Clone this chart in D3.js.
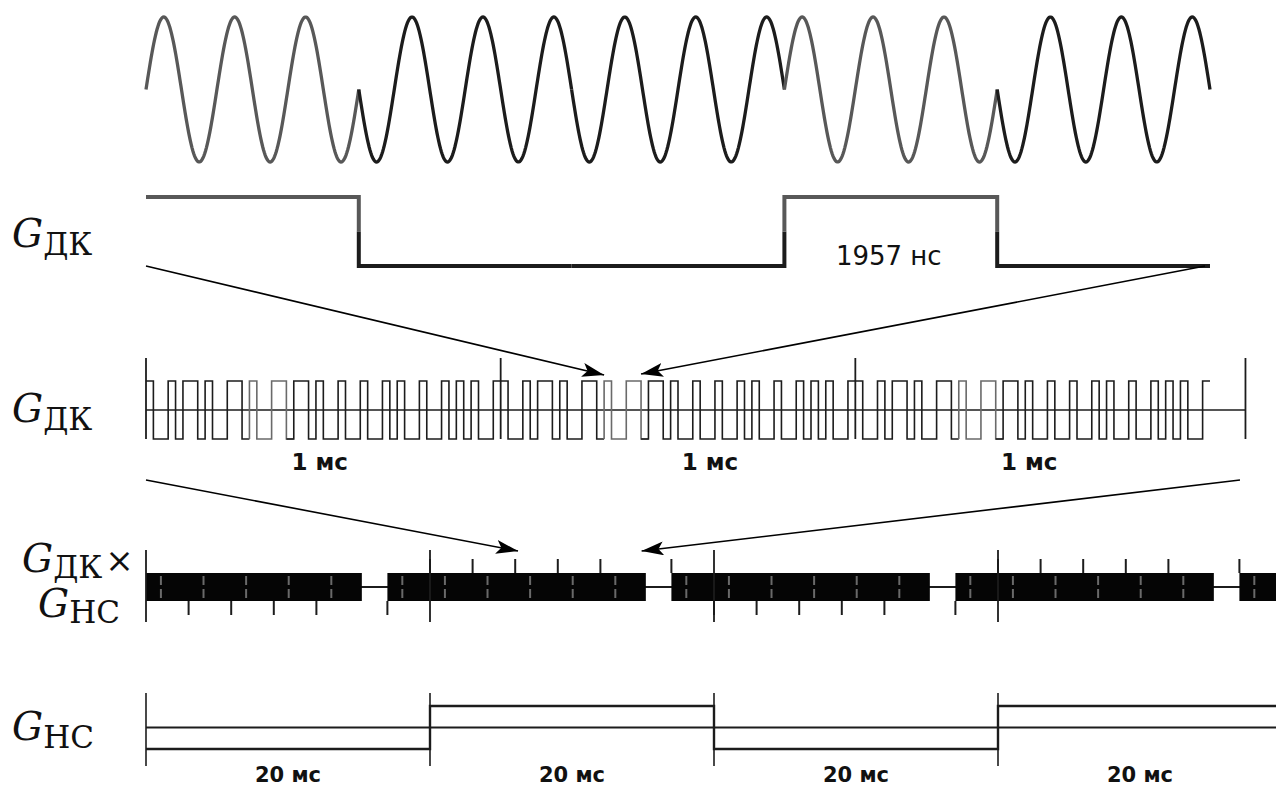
<!DOCTYPE html>
<html>
<head>
<meta charset="utf-8">
<script src="https://cdn.jsdelivr.net/npm/d3@7"></script>
<style>
  body { margin: 0; background: #fff; }
  text { fill: #111; }
</style>
</head>
<body>
<svg id="chart" width="1276" height="787"></svg>
<script>
// ---- data ----
// zoomed piece of the code: chip levels (1 = +, 0 = -)
const carrierChips = [1, 0, 0, 1, 0];
const cyclesPerChip = 3;
const chipLabel = "1957 нс";
const chipLabelAt = 3.5;

// one period (1 ms) of the code, repeated each ms
const codeChips = [1,0,0,1,0,1,1,0,1,0,0,1,1,0,1,0,0,1,1,0,1,1,0,1,
                   0,0,1,0,0,1,0,0,1,0,1,0,0,1,0,0,1,0,1,0,1,0,0,1];
const codePeriods = 3;
const highlightChips = [14, 18];   // chips shown in the upper rows
const msTicks = [0, 1, 2, 3.1];
const msLabelPos = [0.49, 1.59, 2.49];
const msLabel = "1 мс";

// code x nav: blocks of modulated code (ms), tick step 3 ms
const blockStarts = [0, 17, 37, 57, 77];
const blockEnds = [15.2, 35.2, 55.2, 75.2, 84];
const blockTickSide = [1, -1, 1, -1, -1];   // 1 = below, -1 = above
const tickStep = 3;
const navZoom = [26.2, 34.9];

// navigation bits, 20 ms each
const navBits = [0, 1, 0, 1];
const bitMs = 20;
const navLabel = "20 мс";

// ---- drawing ----
const svg = d3.select("#chart");
const dark = "#1c1c1c", grey = "#585858";

svg.append("defs").append("marker")
  .attr("id", "head")
  .attr("markerUnits", "userSpaceOnUse")
  .attr("viewBox", "0 0 22 14")
  .attr("refX", 22).attr("refY", 7)
  .attr("markerWidth", 22).attr("markerHeight", 14)
  .attr("orient", "auto")
  .append("path").attr("d", "M0,0 L22,7 L0,14 L5,7 Z").attr("fill", "#000");

function arrow(x1, y1, x2, y2) {
  svg.append("line")
    .attr("x1", x1).attr("y1", y1).attr("x2", x2).attr("y2", y2)
    .attr("stroke", "#000").attr("stroke-width", 1.6)
    .attr("marker-end", "url(#head)");
}

function mathLabel(x, y, sub, extra, subDy) {
  const d = subDy || 8;
  const t = svg.append("text").attr("x", x).attr("y", y)
    .style("font-family", "'DejaVu Serif', 'Liberation Serif', serif");
  t.append("tspan").text("G").style("font-style", "italic").style("font-size", "39px");
  t.append("tspan").text(sub).attr("dy", d).style("font-size", "31px");
  if (extra) t.append("tspan").text(extra).attr("dy", -d).attr("dx", 3).style("font-size", "34px");
}

// 1) carrier with phase flips
const xCar = d3.scaleLinear().domain([0, carrierChips.length]).range([146, 1210]);
const yCar = d3.scaleLinear().domain([-1, 1]).range([162, 17]);
const sine = d3.line().x(d => xCar(d[0])).y(d => yCar(d[1]));

carrierChips.forEach((c, i) => {
  const s = c ? 1 : -1;
  const pts = d3.range(i, i + 1.0001, 0.004).map(t => [t, s * Math.sin(2 * Math.PI * cyclesPerChip * (t - i))]);
  svg.append("path").attr("d", sine(pts))
    .attr("fill", "none").attr("stroke", c ? grey : dark).attr("stroke-width", 3.3);
});

// 2) the same chips as levels
const yLvl2 = d3.scaleLinear().domain([0, 1]).range([266, 197]);
const mid2 = yLvl2(0.5);
carrierChips.forEach((c, i) => {
  const p = d3.path();
  const prev = carrierChips[i - 1], next = carrierChips[i + 1];
  if (prev !== undefined && prev !== c) { p.moveTo(xCar(i), mid2); p.lineTo(xCar(i), yLvl2(c)); }
  else p.moveTo(xCar(i), yLvl2(c));
  p.lineTo(xCar(i + 1), yLvl2(c));
  if (next !== undefined && next !== c) p.lineTo(xCar(i + 1), mid2);
  svg.append("path").attr("d", p.toString())
    .attr("fill", "none").attr("stroke", c ? grey : dark).attr("stroke-width", 4);
});
svg.append("text").attr("x", xCar(chipLabelAt) - 2).attr("y", 265)
  .attr("text-anchor", "middle")
  .style("font-family", "'DejaVu Sans', Verdana, sans-serif").style("font-size", "26px")
  .text(chipLabel);
mathLabel(12, 247, "ДК");

// 3) code over 3 ms
const xMs = d3.scaleLinear().domain([0, codePeriods]).range([146, 1210]);
const yLvl3 = d3.scaleLinear().domain([0, 1]).range([439, 381]);
const mid3 = yLvl3(0.5);
const n = codeChips.length;
const allChips = d3.range(codePeriods).flatMap(() => codeChips);

svg.append("line").attr("x1", xMs(0)).attr("x2", xMs(msTicks[msTicks.length - 1]))
  .attr("y1", mid3).attr("y2", mid3).attr("stroke", dark).attr("stroke-width", 1.6);

function codePath(from, to) {
  const p = d3.path();
  p.moveTo(xMs(from / n), yLvl3(allChips[from]));
  for (let i = from; i <= to; i++) {
    const c = allChips[i], xe = xMs((i + 1) / n);
    p.lineTo(xe, yLvl3(c));
    const nx = allChips[i + 1];
    if (i < to && nx !== c) p.lineTo(xe, yLvl3(nx));
  }
  return p.toString();
}
// chips draw dark, the zoomed chips of each period a bit lighter
let start = 0;
d3.range(codePeriods).forEach(k => {
  const h0 = k * n + highlightChips[0], h1 = k * n + highlightChips[1];
  svg.append("path").attr("d", codePath(start, h0 - 1))
    .attr("fill", "none").attr("stroke", dark).attr("stroke-width", 1.6);
  svg.append("path").attr("d", codePath(h0 - 1, h1 + 1).replace(/^M[^L]*/, "M" + xMs(h0 / n) + "," + yLvl3(allChips[h0 - 1])))
    .attr("fill", "none").attr("stroke", "#6a6a6a").attr("stroke-width", 1.6);
  start = h1 + 1;
});
svg.append("path").attr("d", codePath(start, allChips.length - 1))
  .attr("fill", "none").attr("stroke", dark).attr("stroke-width", 1.6);

svg.selectAll(".mstick").data(msTicks).enter().append("line")
  .attr("x1", d => xMs(d)).attr("x2", d => xMs(d))
  .attr("y1", 358).attr("y2", 439)
  .attr("stroke", dark).attr("stroke-width", 1.8);

svg.selectAll(".mslabel").data(msLabelPos).enter().append("text")
  .attr("x", d => xMs(d)).attr("y", 470).attr("text-anchor", "middle")
  .style("font-family", "'DejaVu Sans', Verdana, sans-serif").style("font-weight", "bold")
  .style("font-size", "23px").text(msLabel);
mathLabel(12, 422, "ДК");

arrow(xCar(0), yLvl2(0), xMs(1 + highlightChips[0] / n), 375);
arrow(1205, yLvl2(0), xMs(1 + (highlightChips[1] + 1) / n), 374);

// 4) code x nav message
const xNav = d3.scaleLinear().domain([0, navBits.length * bitMs]).range([146, 1282]);
const y4 = 587, h4 = 28;

svg.append("line").attr("x1", xNav(0)).attr("x2", 1276)
  .attr("y1", y4).attr("y2", y4).attr("stroke", dark).attr("stroke-width", 2);

blockStarts.forEach((s, b) => {
  const e = blockEnds[b];
  svg.append("rect").attr("x", xNav(s)).attr("y", y4 - h4 / 2)
    .attr("width", xNav(e) - xNav(s)).attr("height", h4).attr("fill", "#050505");
  // faint seams
  for (let t = s + 1.05; t < e; t += tickStep) {
    [[y4 - h4 / 2 + 3, y4 - 2], [y4 + 2, y4 + h4 / 2 - 3]].forEach(([a, z]) => {
      svg.append("line").attr("x1", xNav(t)).attr("x2", xNav(t))
        .attr("y1", a).attr("y2", z)
        .attr("stroke", "#6a6a6a").attr("stroke-width", 2);
    });
  }
  const side = blockTickSide[b];
  for (let t = s + tickStep; t < e - 0.5; t += tickStep) {
    const y0 = side > 0 ? y4 + h4 / 2 : y4 - h4 / 2;
    svg.append("line").attr("x1", xNav(t)).attr("x2", xNav(t))
      .attr("y1", y0).attr("y2", y0 + side * 14).attr("stroke", dark).attr("stroke-width", 2);
  }
  // start tick keeps the side of the previous block
  if (b > 0) {
    const ps = blockTickSide[b - 1];
    const y0 = ps > 0 ? y4 + h4 / 2 : y4 - h4 / 2;
    svg.append("line").attr("x1", xNav(s)).attr("x2", xNav(s))
      .attr("y1", y0).attr("y2", y0 + ps * 14).attr("stroke", dark).attr("stroke-width", 2);
  }
});
svg.selectAll(".navtick4").data(d3.range(navBits.length)).enter().append("line")
  .attr("x1", d => xNav(d * bitMs)).attr("x2", d => xNav(d * bitMs))
  .attr("y1", 550).attr("y2", 622).attr("stroke", dark).attr("stroke-width", 1.8);

mathLabel(22, 572, "ДК", "×", 6);
mathLabel(38, 617, "НС", null, 6);

arrow(xMs(0), 480, xNav(navZoom[0]), 551);
arrow(1240, 480, xNav(navZoom[1]), 551);

// 5) navigation message
const yLvl5 = d3.scaleLinear().domain([0, 1]).range([749, 706]);
const mid5 = yLvl5(0.5);
svg.append("line").attr("x1", xNav(0)).attr("x2", 1276)
  .attr("y1", mid5).attr("y2", mid5).attr("stroke", dark).attr("stroke-width", 2.2);

const np = d3.path();
np.moveTo(xNav(0), yLvl5(navBits[0]));
navBits.forEach((b, i) => {
  const xe = Math.min(xNav((i + 1) * bitMs), 1276);
  np.lineTo(xe, yLvl5(b));
  const nx = navBits[i + 1];
  if (nx !== undefined && nx !== b) np.lineTo(xe, yLvl5(nx));
});
svg.append("path").attr("d", np.toString())
  .attr("fill", "none").attr("stroke", dark).attr("stroke-width", 2.4);

svg.selectAll(".navtick5").data(d3.range(navBits.length)).enter().append("line")
  .attr("x1", d => xNav(d * bitMs)).attr("x2", d => xNav(d * bitMs))
  .attr("y1", 693).attr("y2", 766).attr("stroke", dark).attr("stroke-width", 1.6);

svg.selectAll(".navlabel").data(navBits).enter().append("text")
  .attr("x", (d, i) => xNav((i + 0.5) * bitMs)).attr("y", 782).attr("text-anchor", "middle")
  .style("font-family", "'DejaVu Sans', Verdana, sans-serif").style("font-weight", "bold")
  .style("font-size", "21px").text(navLabel);
mathLabel(12, 740, "НС");
</script>
</body>
</html>
